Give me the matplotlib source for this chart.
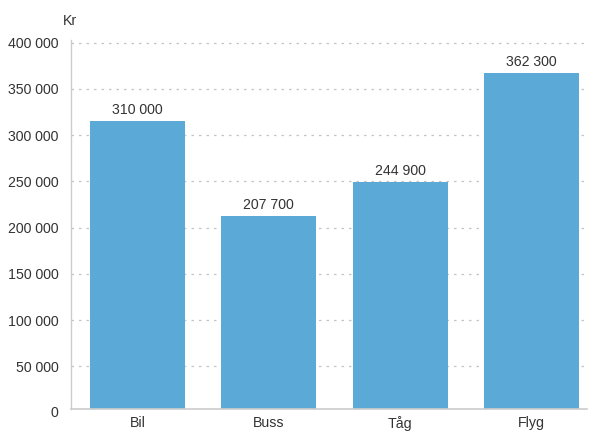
import matplotlib
matplotlib.use("Agg")
import matplotlib.pyplot as plt
from matplotlib.ticker import FuncFormatter
import matplotlib.transforms as mtransforms

categories = ["Bil", "Buss", "Tåg", "Flyg"]
bar_values = [315000, 212400, 249500, 367400]
value_labels = ["310 000", "207 700", "244 900", "362 300"]
y_ticks = [0, 50000, 100000, 150000, 200000, 250000, 300000, 350000, 400000]
unit_label = "Kr"

plt.rcParams['font.family'] = ['Liberation Sans', 'DejaVu Sans']
text_color = "#333333"
bar_color = "#5ba9d7"
fs = 10.2

def fmt(v):
    return f"{int(v):,}".replace(",", " ")

fig = plt.figure(figsize=(5.91, 4.32), dpi=100)
W, H = 591, 432
left, right, bottom, top = 71, 587, 409, 40
ax = fig.add_axes([left / W, 1 - bottom / H, (right - left) / W, (bottom - top) / H])

x = list(range(len(categories)))
ax.bar(x, bar_values, width=0.723, color=bar_color, zorder=2)
for xi, v, lab in zip(x, bar_values, value_labels):
    ax.annotate(lab, (xi, v), xytext=(0, 3), textcoords="offset points",
                ha="center", va="bottom", fontsize=fs, color=text_color)

ax.set_xlim(-0.506, 3.423)
ax.set_ylim(3800, 402900)
ax.set_yticks(y_ticks[1:])
ax.yaxis.set_major_formatter(FuncFormatter(lambda v, p: fmt(v)))
ax.set_xticks(x)
ax.set_xticklabels(categories)
ax.tick_params(axis="both", length=0, labelsize=fs, labelcolor=text_color)
ax.tick_params(axis="y", pad=9)
ax.tick_params(axis="x", pad=5)

# zero label sits just below the axis baseline
trans = mtransforms.blended_transform_factory(ax.transAxes, ax.transData)
off = mtransforms.ScaledTranslation(-9 / 72, 0, fig.dpi_scale_trans)
ax.text(0, y_ticks[0], fmt(y_ticks[0]), transform=trans + off, ha="right", va="center",
        fontsize=fs, color=text_color, clip_on=False)

for yt in y_ticks[1:]:
    ax.axhline(yt, color="#c4c4c4", lw=0.9, linestyle=(0, (2, 4)), zorder=1)

for s in ["top", "right"]:
    ax.spines[s].set_visible(False)
ax.spines["left"].set_color("#cccccc")
ax.spines["bottom"].set_color("#cccccc")
ax.spines["left"].set_linewidth(1)
ax.spines["bottom"].set_linewidth(1.2)

fig.text(70 / W, 1 - 21 / H, unit_label, ha="center", va="center", fontsize=fs, color=text_color)

fig.savefig("out.png", dpi=100)
